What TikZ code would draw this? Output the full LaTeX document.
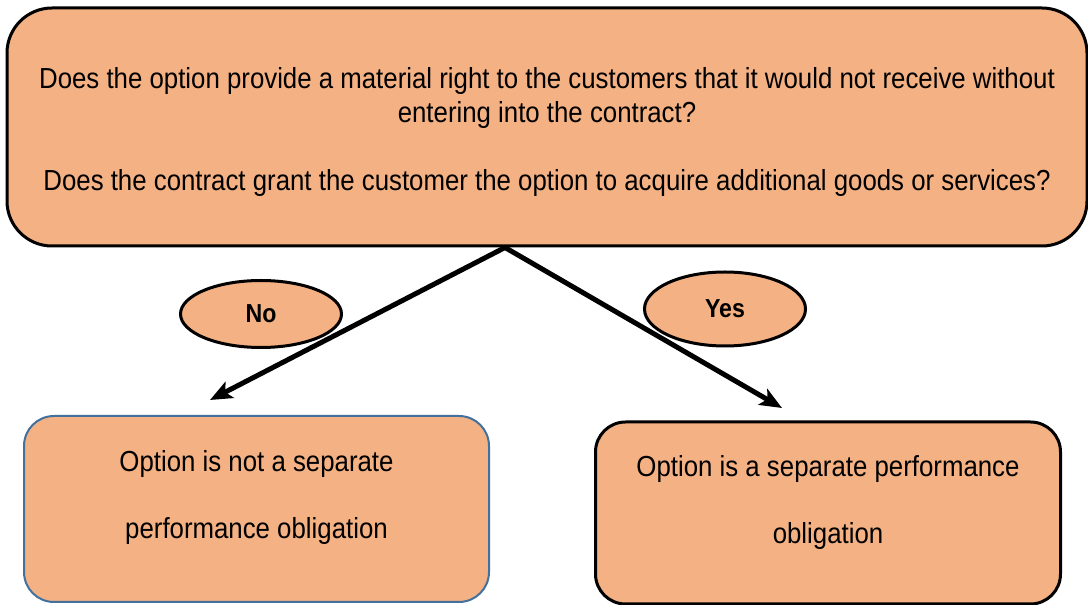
\documentclass[tikz,border=0pt]{standalone}
\usepackage{fontspec}
\setmainfont[FakeStretch=0.89]{Liberation Sans}
\usetikzlibrary{positioning,arrows.meta,shapes.geometric}
\definecolor{peach}{HTML}{F4B183}
\definecolor{steel}{HTML}{41719C}
\tikzset{
  question/.style={draw=black, line width=3pt, fill=peach, rounded corners=45pt,
    minimum width=1080pt, minimum height=238pt, align=center,
    font=\fontsize{29}{34}\selectfont},
  outcome/.style={draw=black, line width=3pt, fill=peach, rounded corners=30pt,
    minimum width=465pt, align=center, font=\fontsize{29}{67}\selectfont},
  answer/.style={ellipse, draw=black, line width=3pt, fill=peach, inner sep=0pt,
    minimum width=161pt, font=\bfseries\fontsize{26}{28}\selectfont},
  branch/.style={line width=5pt, -{Stealth[length=22pt,width=18pt,inset=5pt]}}
}

\begin{document}
\begin{tikzpicture}[x=1pt,y=1pt]
  \useasboundingbox (0,0) rectangle (1088,605);
  % Define nodes
  \node[question] (ask) at (547,478)
    {\rule{0pt}{31pt}Does the option provide a material right to the customers that it would not receive without\\
     entering into the contract?\\[34pt]
     Does the contract grant the customer the option to acquire additional goods or services?};
  \node[outcome, draw=steel, line width=2pt, minimum height=186pt] (nobox) at (256.5,96)
    {Option is not a separate\\performance obligation\rule[-30pt]{0pt}{0pt}};
  \node[outcome, minimum height=182pt, right=104pt of nobox, yshift=-4pt] (yesbox)
    {Option is a separate performance\\obligation\rule[-28pt]{0pt}{0pt}};
  \node[answer, minimum height=67pt] (nolabel) at (261,291) {No};
  \node[answer, minimum height=74pt] (yeslabel) at (725,296) {Yes};
  % Branches
  \coordinate (fork) at ([xshift=-42pt]ask.south);
  \coordinate (noend) at (210,205);
  \coordinate (yesend) at (782,197);
  \draw[branch] (fork) -- (noend);
  \draw[branch] (fork) -- (yesend);
\end{tikzpicture}
\end{document}
